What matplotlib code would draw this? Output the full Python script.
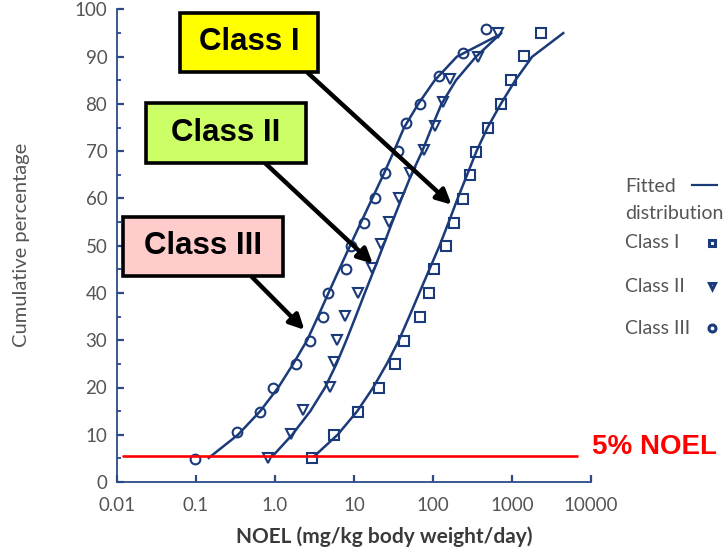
import matplotlib
matplotlib.use("Agg")
import matplotlib.pyplot as plt
import numpy as np
from matplotlib.patches import Rectangle
from matplotlib.lines import Line2D
from matplotlib.ticker import FixedLocator, NullLocator

# measured points (NOEL in mg/kg bw/day, cumulative %)
class1_x = [2.95, 5.66, 11.2, 21, 33.3, 42.4, 69, 88, 102.6, 147, 182, 239, 297, 353, 498, 734, 964, 1410, 2310]
class1_y = [5, 9.9, 14.9, 19.8, 25, 29.9, 34.9, 39.9, 45, 49.9, 54.9, 59.8, 64.9, 69.8, 75, 79.9, 85.1, 90.1, 95]

class2_x = [0.81, 1.6, 2.25, 5.03, 5.66, 6.12, 7.6, 11.2, 17, 22.1, 27.6, 37, 50.5, 76, 105, 134, 162, 371, 670]
class2_y = [5, 10.1, 15.2, 20.1, 25.3, 30, 35.2, 40, 45.2, 50.3, 55, 60.1, 65.3, 70.3, 75.3, 80.4, 85.3, 90, 95]

class3_x = [0.097, 0.327, 0.647, 0.935, 1.85, 2.79, 4.03, 4.75, 7.96, 9.2, 13.3, 18.5, 24.4, 35.7, 45.9, 69, 119, 239, 474]
class3_y = [4.9, 10.6, 14.9, 19.8, 24.9, 29.9, 34.9, 40, 45, 49.9, 54.9, 60, 65.4, 70, 76, 79.9, 86, 90.8, 95.9]

# fitted distribution lines
fit_pct = [5.5, 10, 15, 20, 25, 30, 35, 40, 45, 50, 55, 60, 65, 70, 75, 80, 85, 90, 95]
fit1_x = [3.16, 6.2, 11, 17.5, 26, 37, 50, 67, 90, 121, 158, 205, 270, 355, 490, 720, 1100, 1800, 4450]
fit2_x = [0.935, 1.65, 2.8, 4.3, 6.0, 8.0, 10.5, 13.7, 18, 23.5, 30.5, 40, 53, 73, 96, 128, 195, 350, 730]
fit3_pct = [5.1, 10, 15, 20, 25, 30, 35, 40, 45, 50, 55, 60, 65, 70, 75, 80, 85, 90, 94.7]
fit3_x = [0.145, 0.34, 0.65, 1.1, 1.7, 2.55, 3.5, 4.75, 6.5, 8.9, 12.3, 17, 23.5, 32, 43, 65, 105, 200, 700]

noel_pct = 5.5
noel_range = [0.0116, 6800]

xticks = [0.01, 0.1, 1, 10, 100, 1000, 10000]
xtick_labels = ["0.01", "0.1", "1.0", "10", "100", "1000", "10000"]
yticks = list(range(0, 101, 10))

navy = "#1b3a7a"
grey = "#555555"
W, H = 723, 555

fig = plt.figure(figsize=(W / 100, H / 100), dpi=100)
ax = fig.add_axes([117 / W, (H - 482) / H, (591 - 117) / W, (482 - 9.5) / H])

ax.set_xscale("log")
ax.set_xlim(0.01, 10000)
ax.set_ylim(0, 100)

for s in ["top", "right"]:
    ax.spines[s].set_visible(False)
for s in ["left", "bottom"]:
    ax.spines[s].set_color("#2c4a86")
    ax.spines[s].set_linewidth(1.3)

ax.xaxis.set_major_locator(FixedLocator(xticks))
ax.xaxis.set_minor_locator(NullLocator())
ax.set_xticklabels(xtick_labels)
ax.set_yticks(yticks)
ax.yaxis.set_minor_locator(FixedLocator(list(range(5, 100, 10))))
ax.tick_params(which="major", direction="in", length=5, width=1.6, color="#2c4a86",
               labelsize=13.5, labelcolor=grey)
ax.tick_params(which="minor", direction="in", length=3, width=1.3, color="#2c4a86")
ax.tick_params(axis="x", pad=11)
ax.tick_params(axis="y", pad=7)
for lab in ax.get_xticklabels() + ax.get_yticklabels():
    lab.set_family("Lato")

# fitted lines
ax.plot(fit1_x, fit_pct, color=navy, lw=1.8)
ax.plot(fit2_x, fit_pct, color=navy, lw=1.8)
ax.plot(fit3_x, fit3_pct, color=navy, lw=1.8)

# points
mk = dict(ls="none", mfc="none", mec=navy, mew=1.5, ms=7)
ax.plot(class1_x, class1_y, marker="s", **mk)
ax.plot(class2_x, class2_y, marker="v", **mk)
ax.plot(class3_x, class3_y, marker="o", **mk)

# 5% NOEL line
ax.hlines(noel_pct, noel_range[0], noel_range[1], color="#ff0000", lw=1.9, zorder=5)
fig.text(592 / W, 1 - 447 / H, "5% NOEL", color="#ff0000", fontsize=20,
         fontweight="bold", family="Liberation Sans", va="center", ha="left")

# axis labels
fig.text(384 / W, 1 - 537 / H, "NOEL (mg/kg body weight/day)", ha="center", va="center",
         fontsize=15, color="#3a3a3a", family="Lato", fontweight="bold")
fig.text(22 / W, 1 - 245 / H, "Cumulative percentage", rotation=90, ha="center",
         va="center", fontsize=14.5, color=grey, family="Lato")

# legend
lx = 625 / W
fig.text(lx, 1 - 187 / H, "Fitted", fontsize=14, color=grey, family="Lato", va="center")
fig.text(lx, 1 - 213 / H, "distribution", fontsize=14, color=grey, family="Lato", va="center")
fig.add_artist(Line2D([692 / W, 717 / W], [1 - 185 / H] * 2, color=navy, lw=1.6,
                      transform=fig.transFigure))
leg_items = [("Class I", "s", 243), ("Class II", "v", 286), ("Class III", "o", 328)]
for name, m, yy in leg_items:
    fig.text(lx, 1 - yy / H, name, fontsize=14, color=grey, family="Lato", va="center")
    fig.add_artist(Line2D([712 / W], [1 - yy / H], marker=m, ms=5, mew=2.2, mfc="white",
                          mec=navy, ls="none", transform=fig.transFigure))

# class call-out boxes and arrows
boxes = [
    ("Class I", "#ffff00", (180, 13, 318, 72), (308, 73), (172, 58.7)),
    ("Class II", "#ccff66", (146, 103, 306, 163), (265, 163), (17.3, 46.2)),
    ("Class III", "#ffcccc", (123, 217, 283, 276), (252, 277), (2.36, 32.2)),
]
for txt, fc, (x0, y0, x1, y1), start, tip in boxes:
    fig.add_artist(Rectangle((x0 / W, 1 - y1 / H), (x1 - x0) / W, (y1 - y0) / H,
                             facecolor=fc, edgecolor="black", lw=2.6,
                             transform=fig.transFigure, zorder=6))
    fig.text((x0 + x1) / 2 / W, 1 - (y0 + y1) / 2 / H, txt, ha="center", va="center",
             fontsize=22.5, fontweight="bold", family="Liberation Sans", zorder=7)
    ax.annotate("", xy=tip, xycoords="data", xytext=(start[0], H - start[1]),
                textcoords="figure pixels", annotation_clip=False,
                arrowprops=dict(arrowstyle="-|>", color="black", lw=3.2,
                                mutation_scale=22, shrinkA=0, shrinkB=0), zorder=6)

fig.savefig("out.png", dpi=100)
